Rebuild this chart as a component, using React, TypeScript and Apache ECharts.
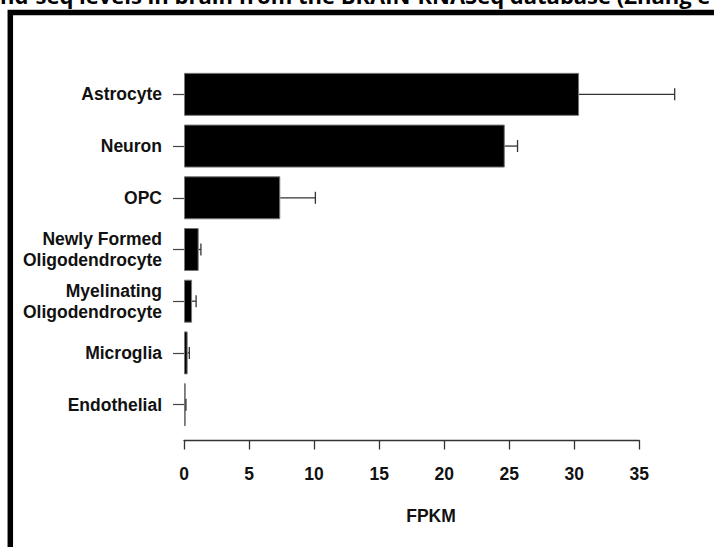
import React, { useEffect, useRef } from "react";
import * as echarts from "echarts";

const categories = [
  "Astrocyte",
  "Neuron",
  "OPC",
  "Newly Formed\nOligodendrocyte",
  "Myelinating\nOligodendrocyte",
  "Microglia",
  "Endothelial",
];
const fpkm = [30.37, 24.66, 7.4, 1.13, 0.62, 0.28, 0.13];
const upperErr = [37.72, 25.64, 10.1, 1.3, 0.93, 0.41, 0.15];
const xTicks = { min: 0, max: 35, interval: 5 };
const titleText = "nd-seq levels in brain from the BRAIN-RNASeq database (Zhang e";
const xName = "FPKM";

export default function App() {
  const ref = useRef<HTMLDivElement>(null);
  useEffect(() => {
    if (!ref.current) return;
    const chart = echarts.init(ref.current, null, { renderer: "svg" });
    const font = "'Liberation Sans', Arial, Helvetica, sans-serif";
    chart.setOption({
      animation: false,
      backgroundColor: "#ffffff",
      grid: { left: 184, right: 74.7, top: 68.5, bottom: 116.5, containLabel: false },
      xAxis: {
        type: "value",
        min: xTicks.min,
        max: xTicks.max,
        interval: xTicks.interval,
        offset: 10,
        axisLine: { show: true, lineStyle: { color: "#333", width: 1.3 } },
        axisTick: { show: true, length: 9, lineStyle: { color: "#333", width: 1.3 } },
        axisLabel: {
          margin: 24,
          fontFamily: font,
          fontWeight: "bold",
          fontSize: 17.5,
          color: "#111",
        },
        splitLine: { show: false },
      },
      yAxis: {
        type: "category",
        data: categories,
        inverse: true,
        axisLine: { show: false },
        axisTick: { show: true, alignWithLabel: true, length: 11, lineStyle: { color: "#444", width: 1.2 } },
        axisLabel: {
          margin: 22,
          fontFamily: font,
          fontWeight: "bold",
          fontSize: 17.5,
          lineHeight: 21,
          color: "#111",
          align: "right",
        },
      },
      series: [
        {
          type: "bar",
          data: fpkm,
          barWidth: 43,
          itemStyle: { color: "#000", borderColor: "#777", borderWidth: 1 },
          z: 2,
        },
        {
          type: "custom",
          z: 3,
          data: categories.map((_, i) => [i, fpkm[i], upperErr[i]]),
          encode: { y: 0, x: [1, 2] },
          renderItem: (params: any, api: any) => {
            const idx = api.value(0);
            const p0 = api.coord([api.value(1), idx]);
            const p1 = api.coord([api.value(2), idx]);
            const h = 6;
            const style = { stroke: "#333", lineWidth: 1.3 };
            return {
              type: "group",
              children: [
                { type: "line", shape: { x1: p0[0], y1: p0[1], x2: p1[0], y2: p1[1] }, style },
                { type: "line", shape: { x1: p1[0], y1: p1[1] - h, x2: p1[0], y2: p1[1] + h }, style },
              ],
            };
          },
        },
      ],
      graphic: [
        {
          type: "rect",
          shape: { x: 10.3, y: 12.5, width: 900, height: 700 },
          style: { fill: "none", stroke: "#000", lineWidth: 5.5 },
          silent: true,
        },
        {
          type: "text",
          x: 0,
          y: 6,
          style: {
            text: titleText,
            fontFamily: "'Open Sans', 'Noto Sans', sans-serif",
            fontWeight: "bold",
            fontSize: 22,
            fill: "#000",
            textAlign: "left",
            textVerticalAlign: "bottom",
          },
        },
        {
          type: "text",
          x: 431,
          y: 516,
          style: {
            text: xName,
            fontFamily: font,
            fontWeight: "bold",
            fontSize: 17.5,
            fill: "#111",
            textAlign: "center",
            textVerticalAlign: "middle",
          },
        },
      ],
    });
    return () => chart.dispose();
  }, []);
  return (
    <div
      ref={ref}
      style={{ position: "fixed", left: 0, top: 0, width: 714, height: 547 }}
    />
  );
}
